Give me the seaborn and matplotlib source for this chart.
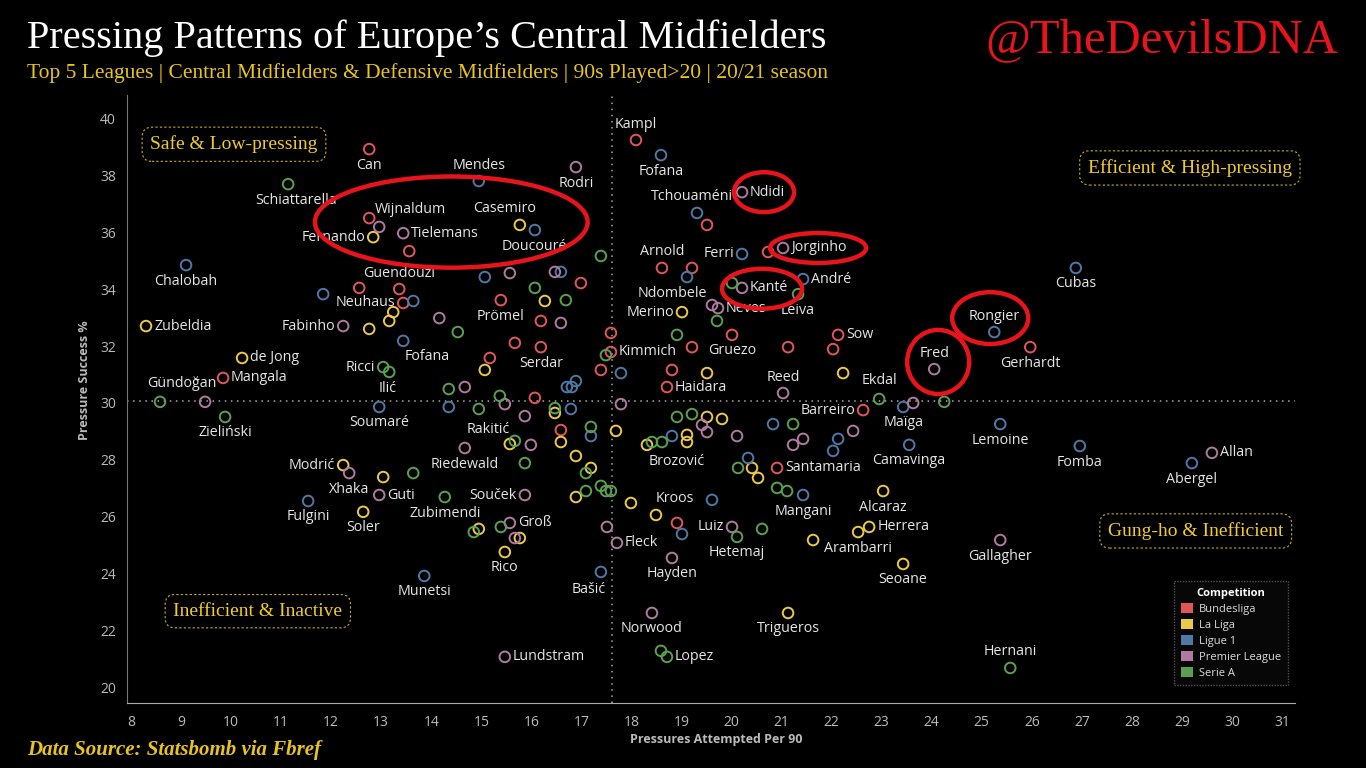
import matplotlib
matplotlib.use("Agg")
import matplotlib.pyplot as plt
from matplotlib.patches import Ellipse, Patch
import seaborn as sns
import pandas as pd

# ---- data: pressures attempted per 90 (x) vs pressure success % (y) ----
bundesliga_names = ["Can", "Kampl", "", "", "", "", "Guendouzi", "Neuhaus", "Mangala", "",
                    "Prömel", "", "", "Serdar", "", "", "", "", "Kimmich", "",
                    "Arnold", "", "", "Gruezo", "", "", "Haidara", "", "Sow", "",
                    "Barreiro", "Gerhardt", "Santamaria", ""]
bundesliga_press = [12.76, 18.09, 19.51, 12.76, 13.56, 12.56, 13.36, 13.44, 9.84, 16.99,
                    15.39, 16.19, 15.67, 16.19, 15.17, 16.07, 16.59, 17.59, 17.59, 17.39,
                    18.61, 19.21, 20.73, 20.01, 19.21, 18.81, 18.71, 21.13, 22.13, 22.03,
                    22.63, 25.97, 20.91, 18.91]
bundesliga_success = [38.91, 39.23, 36.25, 36.49, 35.33, 34.04, 34.00, 33.51, 30.88, 34.21,
                      33.61, 32.88, 32.11, 31.96, 31.58, 30.18, 29.05, 32.46, 31.79, 31.16,
                      34.74, 34.74, 35.30, 32.39, 31.96, 31.16, 30.56, 31.96, 32.39, 31.89,
                      29.75, 31.96, 27.72, 25.79]

laliga_names = ["Fernando", "Casemiro", "Zubeldia", "de Jong", "", "", "", "", "", "",
                "", "", "", "", "", "Modrić", "", "Soler", "", "",
                "Kroos", "", "", "Rico", "Merino", "", "", "", "", "",
                "", "", "", "", "Alcaraz", "Herrera", "", "Arambarri", "Seoane", "Trigueros"]
laliga_press = [12.84, 15.77, 8.30, 10.22, 13.24, 13.16, 12.76, 16.27, 15.07, 16.47,
                16.59, 17.69, 15.57, 16.89, 17.19, 12.24, 13.04, 12.64, 16.89, 17.99,
                18.49, 14.95, 15.77, 15.47, 19.01, 19.51, 19.51, 19.81, 19.11, 19.11,
                18.31, 20.41, 20.53, 22.23, 23.03, 22.75, 22.53, 21.63, 23.43, 21.13]
laliga_success = [35.82, 36.25, 32.70, 31.58, 33.19, 32.88, 32.60, 33.58, 31.16, 29.65,
                  28.63, 29.02, 28.56, 28.14, 27.72, 27.82, 27.40, 26.18, 26.70, 26.49,
                  26.07, 25.58, 25.26, 24.77, 33.19, 31.05, 29.51, 29.44, 28.88, 28.63,
                  28.53, 27.72, 27.37, 31.05, 26.91, 25.65, 25.47, 25.19, 24.35, 22.63]

ligue1_names = ["Mendes", "Fofana", "Tchouaméni", "Doucouré", "Chalobah", "", "", "Fofana", "", "",
                "", "", "", "Soumaré", "", "", "", "", "Fulgini", "Munetsi",
                "Bašić", "", "", "Ndombele", "Ferri", "André", "", "", "", "",
                "", "Mangani", "Maïga", "Camavinga", "Rongier", "Lemoine", "Cubas", "Fomba", "Abergel"]
ligue1_press = [14.95, 18.59, 19.31, 16.07, 9.10, 11.84, 13.64, 13.44, 15.07, 16.59,
                16.71, 16.81, 16.89, 12.96, 14.35, 16.79, 17.19, 17.79, 11.54, 13.86,
                17.39, 19.61, 19.01, 19.11, 20.21, 21.43, 18.81, 20.83, 20.33, 22.13,
                22.03, 21.43, 23.43, 23.55, 25.25, 25.37, 26.88, 26.96, 29.20]
ligue1_success = [37.79, 38.70, 36.67, 36.07, 34.84, 33.82, 33.58, 32.18, 34.42, 34.60,
                  30.56, 30.56, 30.77, 29.86, 29.86, 29.79, 28.84, 31.05, 26.56, 23.93,
                  24.07, 26.60, 25.40, 34.42, 35.23, 34.35, 28.84, 29.26, 28.07, 28.74,
                  28.32, 26.77, 29.86, 28.53, 32.49, 29.26, 34.74, 28.49, 27.89]

premier_names = ["Rodri", "Ndidi", "Wijnaldum", "Tielemans", "Fabinho", "", "", "", "", "Gündoğan",
                 "", "", "", "Riedewald", "", "Xhaka", "Guti", "Souček", "Groß", "",
                 "", "Fleck", "Hayden", "Norwood", "Lundstram", "", "Neves", "", "Kanté", "Jorginho",
                 "Reed", "", "", "", "", "", "", "", "Fred", "Luiz", "Gallagher", "Allan"]
premier_press = [16.89, 20.21, 12.96, 13.44, 12.24, 14.16, 15.57, 16.47, 16.59, 9.48,
                 14.67, 15.47, 15.87, 14.67, 15.99, 12.36, 12.96, 15.87, 15.57, 15.67,
                 17.51, 17.71, 18.81, 18.41, 15.47, 17.79, 19.73, 19.61, 20.21, 21.03,
                 21.03, 19.41, 19.51, 20.11, 21.43, 21.23, 22.43, 23.63, 24.05, 20.01, 25.37, 29.60]
premier_success = [38.28, 37.40, 36.18, 35.96, 32.70, 32.98, 34.56, 34.60, 32.81, 30.04,
                   30.56, 29.96, 29.54, 28.42, 28.53, 27.54, 26.77, 26.77, 25.79, 25.26,
                   25.65, 25.09, 24.56, 22.63, 21.09, 29.96, 33.33, 33.44, 34.04, 35.44,
                   30.35, 29.23, 28.98, 28.84, 28.74, 28.53, 29.02, 30.00, 31.19, 25.65, 25.19, 28.25]

seriea_names = ["Schiattarella", "", "", "", "", "Ricci", "Ilić", "", "", "Zieliński",
                "", "", "", "", "", "", "", "", "Zubimendi", "",
                "", "", "", "", "", "", "Lopez", "", "", "",
                "", "", "", "", "", "", "", "", "Hetemaj", "",
                "", "Leiva", "Ekdal", "", "Hernani"]
seriea_press = [11.14, 17.39, 16.07, 16.69, 14.53, 13.04, 13.16, 14.35, 8.58, 9.88,
                15.37, 14.95, 16.47, 17.19, 15.67, 15.87, 13.64, 17.09, 14.27, 17.09,
                17.39, 17.49, 17.59, 14.85, 15.39, 18.59, 18.71, 19.71, 18.91, 17.49,
                18.91, 19.21, 18.61, 18.41, 20.13, 21.23, 20.91, 21.11, 20.11, 20.61,
                20.01, 21.33, 22.95, 24.25, 25.57]
seriea_success = [37.68, 35.16, 34.04, 33.61, 32.49, 31.26, 31.09, 30.49, 30.04, 29.51,
                  30.25, 29.79, 29.82, 29.16, 28.67, 27.89, 27.54, 27.54, 26.70, 26.91,
                  27.09, 26.91, 26.91, 25.47, 25.65, 21.30, 21.09, 32.88, 32.39, 31.68,
                  29.51, 29.61, 28.63, 28.63, 27.72, 29.26, 27.02, 26.91, 25.30, 25.58,
                  34.21, 33.82, 30.14, 30.04, 20.70]

competitions = ["Bundesliga", "La Liga", "Ligue 1", "Premier League", "Serie A"]
avg_press = 17.62
avg_success = 30.08

frames = []
for comp, n, px, sy in zip(
        competitions,
        [bundesliga_names, laliga_names, ligue1_names, premier_names, seriea_names],
        [bundesliga_press, laliga_press, ligue1_press, premier_press, seriea_press],
        [bundesliga_success, laliga_success, ligue1_success, premier_success, seriea_success]):
    frames.append(pd.DataFrame({"player": n, "press": px, "success": sy, "competition": comp}))
df = pd.concat(frames, ignore_index=True)

palette = {"Bundesliga": "#e15759", "La Liga": "#edc948", "Ligue 1": "#4e79a7",
           "Premier League": "#b07aa1", "Serie A": "#59a14f"}

# label placement (pixel offsets, y up)
OFFS = {"above": (0, 16, "center"), "below": (0, -16, "center"),
        "left": (-8, 0, "right"), "right": (8, 0, "left")}
place = {
    "Can": "below", "Kampl": "above", "Guendouzi": "above", "Neuhaus": "left", "Mangala": "right",
    "Prömel": "below", "Serdar": "below", "Kimmich": "right", "Arnold": "above", "Gruezo": "below",
    "Haidara": "right", "Sow": "right", "Barreiro": "left", "Gerhardt": "below", "Santamaria": "right",
    "Fernando": "left", "Casemiro": (-15, 16, "center"), "Zubeldia": "right", "de Jong": "right",
    "Modrić": "left", "Soler": "below", "Kroos": (19, 16, "center"), "Rico": "below", "Merino": "left",
    "Alcaraz": "below", "Herrera": "right", "Arambarri": (11, -8, "left"), "Seoane": "below",
    "Trigueros": "below", "Mendes": "above", "Fofana": ["below", (24, -16, "center")],
    "Tchouaméni": (-5, 16, "center"), "Doucouré": "below", "Chalobah": "below", "Soumaré": "below",
    "Fulgini": "below", "Munetsi": "below", "Bašić": (-12, -18, "center"), "Ndombele": (-15, -16, "center"),
    "Ferri": "left", "André": "right", "Mangani": "below", "Maïga": "below", "Camavinga": "below",
    "Rongier": "above", "Lemoine": "below", "Cubas": "below", "Fomba": "below", "Abergel": "below",
    "Rodri": "below", "Ndidi": "right", "Wijnaldum": (31, 17, "center"), "Tielemans": "right",
    "Fabinho": "left", "Gündoğan": (-23, 18, "center"), "Riedewald": "below", "Xhaka": "below",
    "Guti": "right", "Souček": "left", "Groß": "right", "Fleck": "right", "Hayden": "below",
    "Norwood": "below", "Lundstram": "right", "Neves": "right", "Kanté": "right", "Jorginho": "right",
    "Reed": "above", "Fred": "above", "Luiz": "left", "Gallagher": "below", "Allan": "right",
    "Schiattarella": (8, -16, "center"), "Ricci": "left", "Ilić": (-2, -17, "center"),
    "Zieliński": "below", "Zubimendi": "below", "Lopez": "right", "Hetemaj": "below",
    "Leiva": "below", "Ekdal": (0, 19, "center"), "Hernani": "above",
}
# labels that sit off an unnamed mark
extra_labels = [("Rakitić", "Serie A", 14.95, 29.79, (9, -21, "center")),
                ("Brozović", "Serie A", 18.61, 28.63, (15, -19, "center"))]

# red highlight rings: (player, dx, dy, width, height) in data units
rings = [("Tielemans", 0.96, 0.39, 5.45, 3.2), ("Ndidi", 0.44, 0.0, 1.2, 1.4),
         ("Jorginho", 0.70, 0.0, 1.92, 1.05), ("Kanté", 0.40, -0.03, 1.6, 1.4),
         ("Rongier", -0.08, 0.49, 1.52, 1.82), ("Fred", 0.08, 0.25, 1.24, 2.25)]

sns.set_style("dark")
plt.rcParams["font.family"] = ["Open Sans", "DejaVu Sans"]

fig = plt.figure(figsize=(13.66, 7.68), dpi=100, facecolor="black")
ax = fig.add_axes([127 / 1366, 1 - 703 / 768, 1168 / 1366, 608 / 768])
ax.set_facecolor("black")

sns.scatterplot(data=df, x="press", y="success", hue="competition", palette=palette,
                s=58, linewidth=1.4, legend=False, ax=ax, zorder=3)
coll = ax.collections[0]
coll.set_edgecolors(coll.get_facecolors())
coll.set_facecolors("none")

ax.set_xlim(7.92, 31.26)
ax.set_ylim(19.47, 40.81)
ax.set_xticks(range(8, 32))
ax.set_yticks(range(20, 41, 2))
ax.grid(False)
ax.axvline(avg_press, color="#aaaaaa", lw=1.1, ls=(0, (1, 3)), zorder=1)
ax.axhline(avg_success, color="#aaaaaa", lw=1.1, ls=(0, (1, 3)), zorder=1)

for s in ["top", "right"]:
    ax.spines[s].set_visible(False)
ax.spines["left"].set_color("#777777")
ax.spines["bottom"].set_color("#aaaaaa")
ax.tick_params(axis="x", colors="#bbbbbb", labelsize=10, length=5, width=1, direction="out")
ax.tick_params(axis="y", colors="#bbbbbb", labelsize=10, length=0, pad=8)
for t in ax.get_xticklabels() + ax.get_yticklabels():
    t.set_color("#bbbbbb")
ax.set_xlabel("")
ax.set_ylabel("")

# player labels
for _, r in df.iterrows():
    if not r["player"]:
        continue
    p = place.get(r["player"], "below")
    if isinstance(p, list):
        p = p.pop(0)
    dx, dy, ha = OFFS[p] if isinstance(p, str) else p
    ax.annotate(r["player"], (r["press"], r["success"]), xytext=(dx, dy),
                textcoords="offset pixels", ha=ha, va="center", fontsize=10.3,
                color="#e6e6e6", zorder=4)
for name, comp, x, y, (dx, dy, ha) in extra_labels:
    ax.annotate(name, (x, y), xytext=(dx, dy), textcoords="offset pixels",
                ha=ha, va="center", fontsize=10.3, color="#e6e6e6", zorder=4)

for name, dx, dy, w, h in rings:
    row = df[df["player"] == name].iloc[0]
    ax.add_patch(Ellipse((row["press"] + dx, row["success"] + dy), w, h, fill=False,
                         ec="#e8141c", lw=3.2, zorder=5))

# quadrant boxes
box = dict(boxstyle="round,pad=0.42,rounding_size=0.5", fc="black", ec="#c9ad22",
           ls=(0, (2, 2)), lw=0.8)
quads = [("Safe & Low-pressing", 0.0916, 0.919), ("Efficient & High-pressing", 0.910, 0.880),
         ("Gung-ho & Inefficient", 0.915, 0.283), ("Inefficient & Inactive", 0.112, 0.151)]
for txt, qx, qy in quads:
    ax.text(qx, qy, txt, transform=ax.transAxes, ha="center", va="center", fontsize=14,
            family="Liberation Serif", color="#f0cc2a", bbox=box, zorder=6)

# legend
handles = [Patch(facecolor=palette[c], edgecolor="none", label=c) for c in competitions]
leg = ax.legend(handles=handles, title="Competition", loc="lower right",
                bbox_to_anchor=(0.9985, 0.02), fontsize=8, title_fontsize=8,
                handlelength=1.1, handleheight=1.1, handletextpad=0.5, labelspacing=0.35,
                frameon=True, facecolor="#0a0a0a", edgecolor="#666666", fancybox=False,
                borderpad=0.6)
leg.get_frame().set_linestyle((0, (1, 1)))
leg.get_title().set_color("white")
leg.get_title().set_fontweight("bold")
for t in leg.get_texts():
    t.set_color("#dddddd")
leg.set_zorder(7)

# titles and captions
fig.text(27 / 1366, 1 - 38 / 768, "Pressing Patterns of Europe\u2019s Central Midfielders",
         family="Liberation Serif", fontsize=29, color="white", va="center", ha="left")
fig.text(27 / 1366, 1 - 73 / 768,
         "Top 5 Leagues | Central Midfielders & Defensive Midfielders | 90s Played>20 | 20/21 season",
         family="Liberation Serif", fontsize=15.5, color="#e8c51a", va="center", ha="left")
fig.text(1338 / 1366, 1 - 40 / 768, "@TheDevilsDNA", family="Liberation Serif", fontsize=35,
         color="#e8141c", va="center", ha="right")
fig.text(27 / 1366, 1 - 750 / 768, "Data Source: Statsbomb via Fbref", family="Liberation Serif",
         fontsize=15, color="#e8c51a", style="italic", weight="bold", va="center", ha="left")
fig.text(716 / 1366, 1 - 740 / 768, "Pressures Attempted Per 90", fontsize=9, weight="bold",
         color="#bbbbbb", ha="center", va="center")
fig.text(84 / 1366, 1 - 380 / 768, "Pressure Success %", fontsize=9, weight="bold",
         color="#bbbbbb", ha="center", va="center", rotation=90)

fig.savefig("out.png", dpi=100, facecolor="black")
